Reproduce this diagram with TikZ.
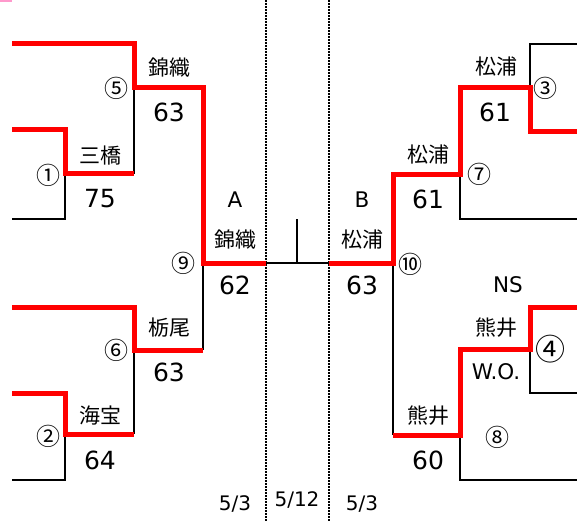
\documentclass[tikz,border=0pt]{standalone}
\usepackage{fontspec}
\setmainfont{Noto Sans CJK JP}
\newfontfamily\jpfont{Noto Sans CJK JP}
\newfontfamily\latfont{DejaVu Sans}
\begin{document}
\begin{tikzpicture}[x=1pt,y=-1pt,
  redline/.style={draw=red,line width=5pt,line join=miter},
  blkline/.style={draw=black,line width=2.8pt,line join=miter},
  dotline/.style={draw=black,line width=2.6pt,dash pattern=on 1.7pt off 1.3pt},
  team/.style={inner sep=0pt,font=\jpfont\fontsize{21}{21}\selectfont},
  score/.style={inner sep=0pt,font=\latfont\fontsize{25}{25}\selectfont},
  mnum/.style={inner sep=0pt,font=\jpfont\fontsize{24}{24}\selectfont},
  big/.style={inner sep=0pt,font=\latfont\fontsize{21.5}{21.5}\selectfont},
  datelab/.style={inner sep=0pt,font=\latfont\fontsize{20}{20}\selectfont}]
\useasboundingbox (0,0) rectangle (577,521);
\fill[fill={rgb,255:red,255;green,153;blue,204}] (0,0) rectangle (12,2);
% coordinates left
\coordinate (l1a) at (12,130); \coordinate (l1b) at (65,130); \coordinate (l1c) at (65,174);
\coordinate (l1d) at (65,219); \coordinate (l1e) at (12,219);
\coordinate (l5a) at (12,44); \coordinate (l5b) at (134,44); \coordinate (l5c) at (134,88);
\coordinate (l5d) at (134,174);
\coordinate (l9a) at (203,88); \coordinate (l9b) at (203,263); \coordinate (ca) at (266,263);
\coordinate (l6a) at (12,307); \coordinate (l6b) at (134,307); \coordinate (l6c) at (134,350);
\coordinate (l9c) at (203,350);
\coordinate (l2a) at (12,393); \coordinate (l2b) at (65,393); \coordinate (l2c) at (65,434);
\coordinate (l6d) at (134,434);
\coordinate (l2d) at (65,480); \coordinate (l2e) at (12,480);
% center
\coordinate (cb) at (329,263); \coordinate (cm) at (297,263); \coordinate (ct) at (297,219);
\coordinate (d1t) at (266,0); \coordinate (d1b) at (266,521);
\coordinate (d2t) at (329,0); \coordinate (d2b) at (329,521);
% right
\coordinate (r3a) at (577,44); \coordinate (r3b) at (530,44); \coordinate (r3c) at (530,88);
\coordinate (r3d) at (530,132); \coordinate (r3e) at (577,132);
\coordinate (r7a) at (460,88); \coordinate (r7b) at (460,175); \coordinate (r7c) at (460,219);
\coordinate (r7d) at (577,219);
\coordinate (r10a) at (393,175); \coordinate (r10b) at (393,263); \coordinate (r10c) at (393,435);
\coordinate (r8a) at (460,435); \coordinate (r8b) at (460,349); \coordinate (r8c) at (460,480);
\coordinate (r8d) at (577,480);
\coordinate (r4a) at (530,349); \coordinate (r4b) at (530,307); \coordinate (r4c) at (577,307);
\coordinate (r4d) at (530,393); \coordinate (r4e) at (577,393);
% dotted dividers
\draw[dotline] (d1t) -- (d1b);
\draw[dotline] (d2t) -- (d2b);
% black lines
\draw[blkline] (l1c) -- (l1d) -- (l1e);
\draw[blkline] (l5c) -- (l5d);
\draw[blkline] (l9b) -- (l9c);
\draw[blkline] (l6c) -- (l6d);
\draw[blkline] (l2c) -- (l2d) -- (l2e);
\draw[blkline] (ca) -- (cb);
\draw[blkline] (ct) -- (cm);
\draw[blkline] (r3a) -- (r3b) -- (r3c);
\draw[blkline] (r7b) -- (r7c) -- (r7d);
\draw[blkline] (r10b) -- (r10c);
\draw[blkline] (r4a) -- (r4d) -- (r4e);
\draw[blkline] (r8a) -- (r8c) -- (r8d);
% red lines
\draw[redline] (l1a) -- (l1b) -- (l1c) -- (l5d);
\draw[redline] (l5a) -- (l5b) -- (l5c) -- (l9a) -- (l9b) -- (ca);
\draw[redline] (l6a) -- (l6b) -- (l6c) -- (l9c);
\draw[redline] (l2a) -- (l2b) -- (l2c) -- (l6d);
\draw[redline] (r3e) -- (r3d) -- (r3c) -- (r7a) -- (r7b) -- (r10a) -- (r10b) -- (cb);
\draw[redline] (r10c) -- (r8a) -- (r8b) -- (r4a) -- (r4b) -- (r4c);
% left labels
\node[team] (t5) at (169,68) {錦織};
\node[score] (s5) at (169,112) {63};
\node[mnum] (m5) at (116,88) {⑤};
\node[team] (t1) at (100,156) {三橋};
\node[mnum] (m1) at (48,175) {①};
\node[score] (s1) at (100,199) {75};
\node[big] (ba) at (235,200) {A};
\node[team] (t9) at (235,240) {錦織};
\node[mnum] (m9) at (183,263) {⑨};
\node[score] (s9) at (235,285) {62};
\node[team] (t6) at (169,328) {栃尾};
\node[mnum] (m6) at (116,350) {⑥};
\node[score] (s6) at (169,372) {63};
\node[team] (t2) at (100,416) {海宝};
\node[mnum] (m2) at (48,436) {②};
\node[score] (s2) at (100,460) {64};
\node[datelab] (dl) at (235,504) {5/3};
\node[datelab] (dc) at (297,500) {5/12};
\node[datelab] (dr) at (362,504) {5/3};
% right labels
\node[team] (t3) at (496,67) {松浦};
\node[mnum] (m3) at (545,88) {③};
\node[score] (s3) at (495,112) {61};
\node[team] (t7) at (428,155) {松浦};
\node[mnum] (m7) at (479,174) {⑦};
\node[score] (s7) at (428,199) {61};
\node[big] (bb) at (362,200) {B};
\node[team] (t10) at (362,240) {松浦};
\node[mnum] (m10) at (410,264) {⑩};
\node[score] (s10) at (362,285) {63};
\node[big] (ns) at (508,285) {NS};
\node[team] (t4) at (496,328) {熊井};
\node[inner sep=0pt,font=\jpfont\fontsize{30}{30}\selectfont] (m4) at (550,349) {④};
\node[big] (wo) at (496,372) {W.O.};
\node[team] (t8) at (428,416) {熊井};
\node[mnum] (m8) at (497,437) {⑧};
\node[score] (s8) at (428,460) {60};
\end{tikzpicture}
\end{document}
